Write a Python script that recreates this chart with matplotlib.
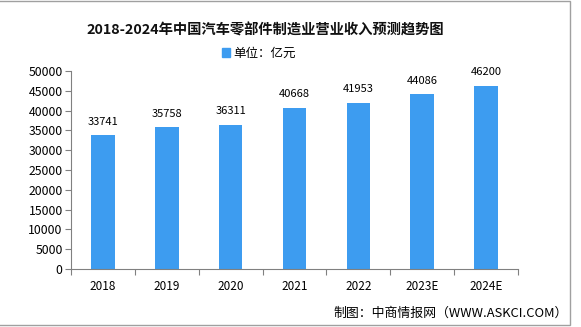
import matplotlib
matplotlib.use('Agg')
import matplotlib.pyplot as plt
from matplotlib.patches import Rectangle

plt.rcParams['font.family'] = ['Noto Sans CJK SC', 'DejaVu Sans']

years = ['2018', '2019', '2020', '2021', '2022', '2023E', '2024E']
revenue = [33741, 35758, 36311, 40668, 41953, 44086, 46200]

title = '2018-2024年中国汽车零部件制造业营业收入预测趋势图'
legend_label = '单位：亿元'
source = '制图：中商情报网（WWW.ASKCI.COM）'
bar_color = '#3d9cf0'

fig = plt.figure(figsize=(5.81, 3.27), dpi=100)
ax = fig.add_axes([71 / 581, 58 / 327, 447 / 581, 198 / 327])

x = list(range(len(years)))
ax.bar(x, revenue, width=0.37, color=bar_color, zorder=2)
for xi, v in zip(x, revenue):
    ax.text(xi, v + 2200, str(v), ha='center', va='bottom', fontsize=8, color='black')

ax.set_xlim(-0.5, len(years) - 0.5)
ax.set_ylim(0, 50000)
ax.set_yticks(range(0, 50001, 5000))
ax.tick_params(axis='y', labelsize=8.8, length=4, color='#808080', pad=2)
ax.set_xticks([i - 0.5 for i in range(len(years) + 1)], minor=False)
ax.set_xticklabels([])
ax.set_xticks(x, minor=True)
ax.set_xticklabels(years, minor=True, fontsize=8.5)
ax.tick_params(axis='x', which='major', length=4, color='#808080')
ax.tick_params(axis='x', which='minor', length=0, pad=8)

for side in ['top', 'right']:
    ax.spines[side].set_visible(False)
for side in ['left', 'bottom']:
    ax.spines[side].set_color('#808080')

fig.text(265 / 581, 1 - 30 / 327, title, ha='center', va='center', fontsize=10.3,
         fontweight='bold', color='#111111')
fig.patches.append(Rectangle((222 / 581, 1 - 57 / 327), 8 / 581, 9 / 327,
                             transform=fig.transFigure, color=bar_color))
fig.text(233 / 581, 1 - 53 / 327, legend_label, ha='left', va='center', fontsize=9)
fig.text(568 / 581, 1 - 313 / 327, source, ha='right', va='center', fontsize=9.3)

# outer frame
fig.patches.append(Rectangle((-0.01, 2 / 327), 576 / 581, 324 / 327, transform=fig.transFigure,
                             fill=False, edgecolor='#a0a0a0', linewidth=1))

fig.savefig('out.png', dpi=100)
